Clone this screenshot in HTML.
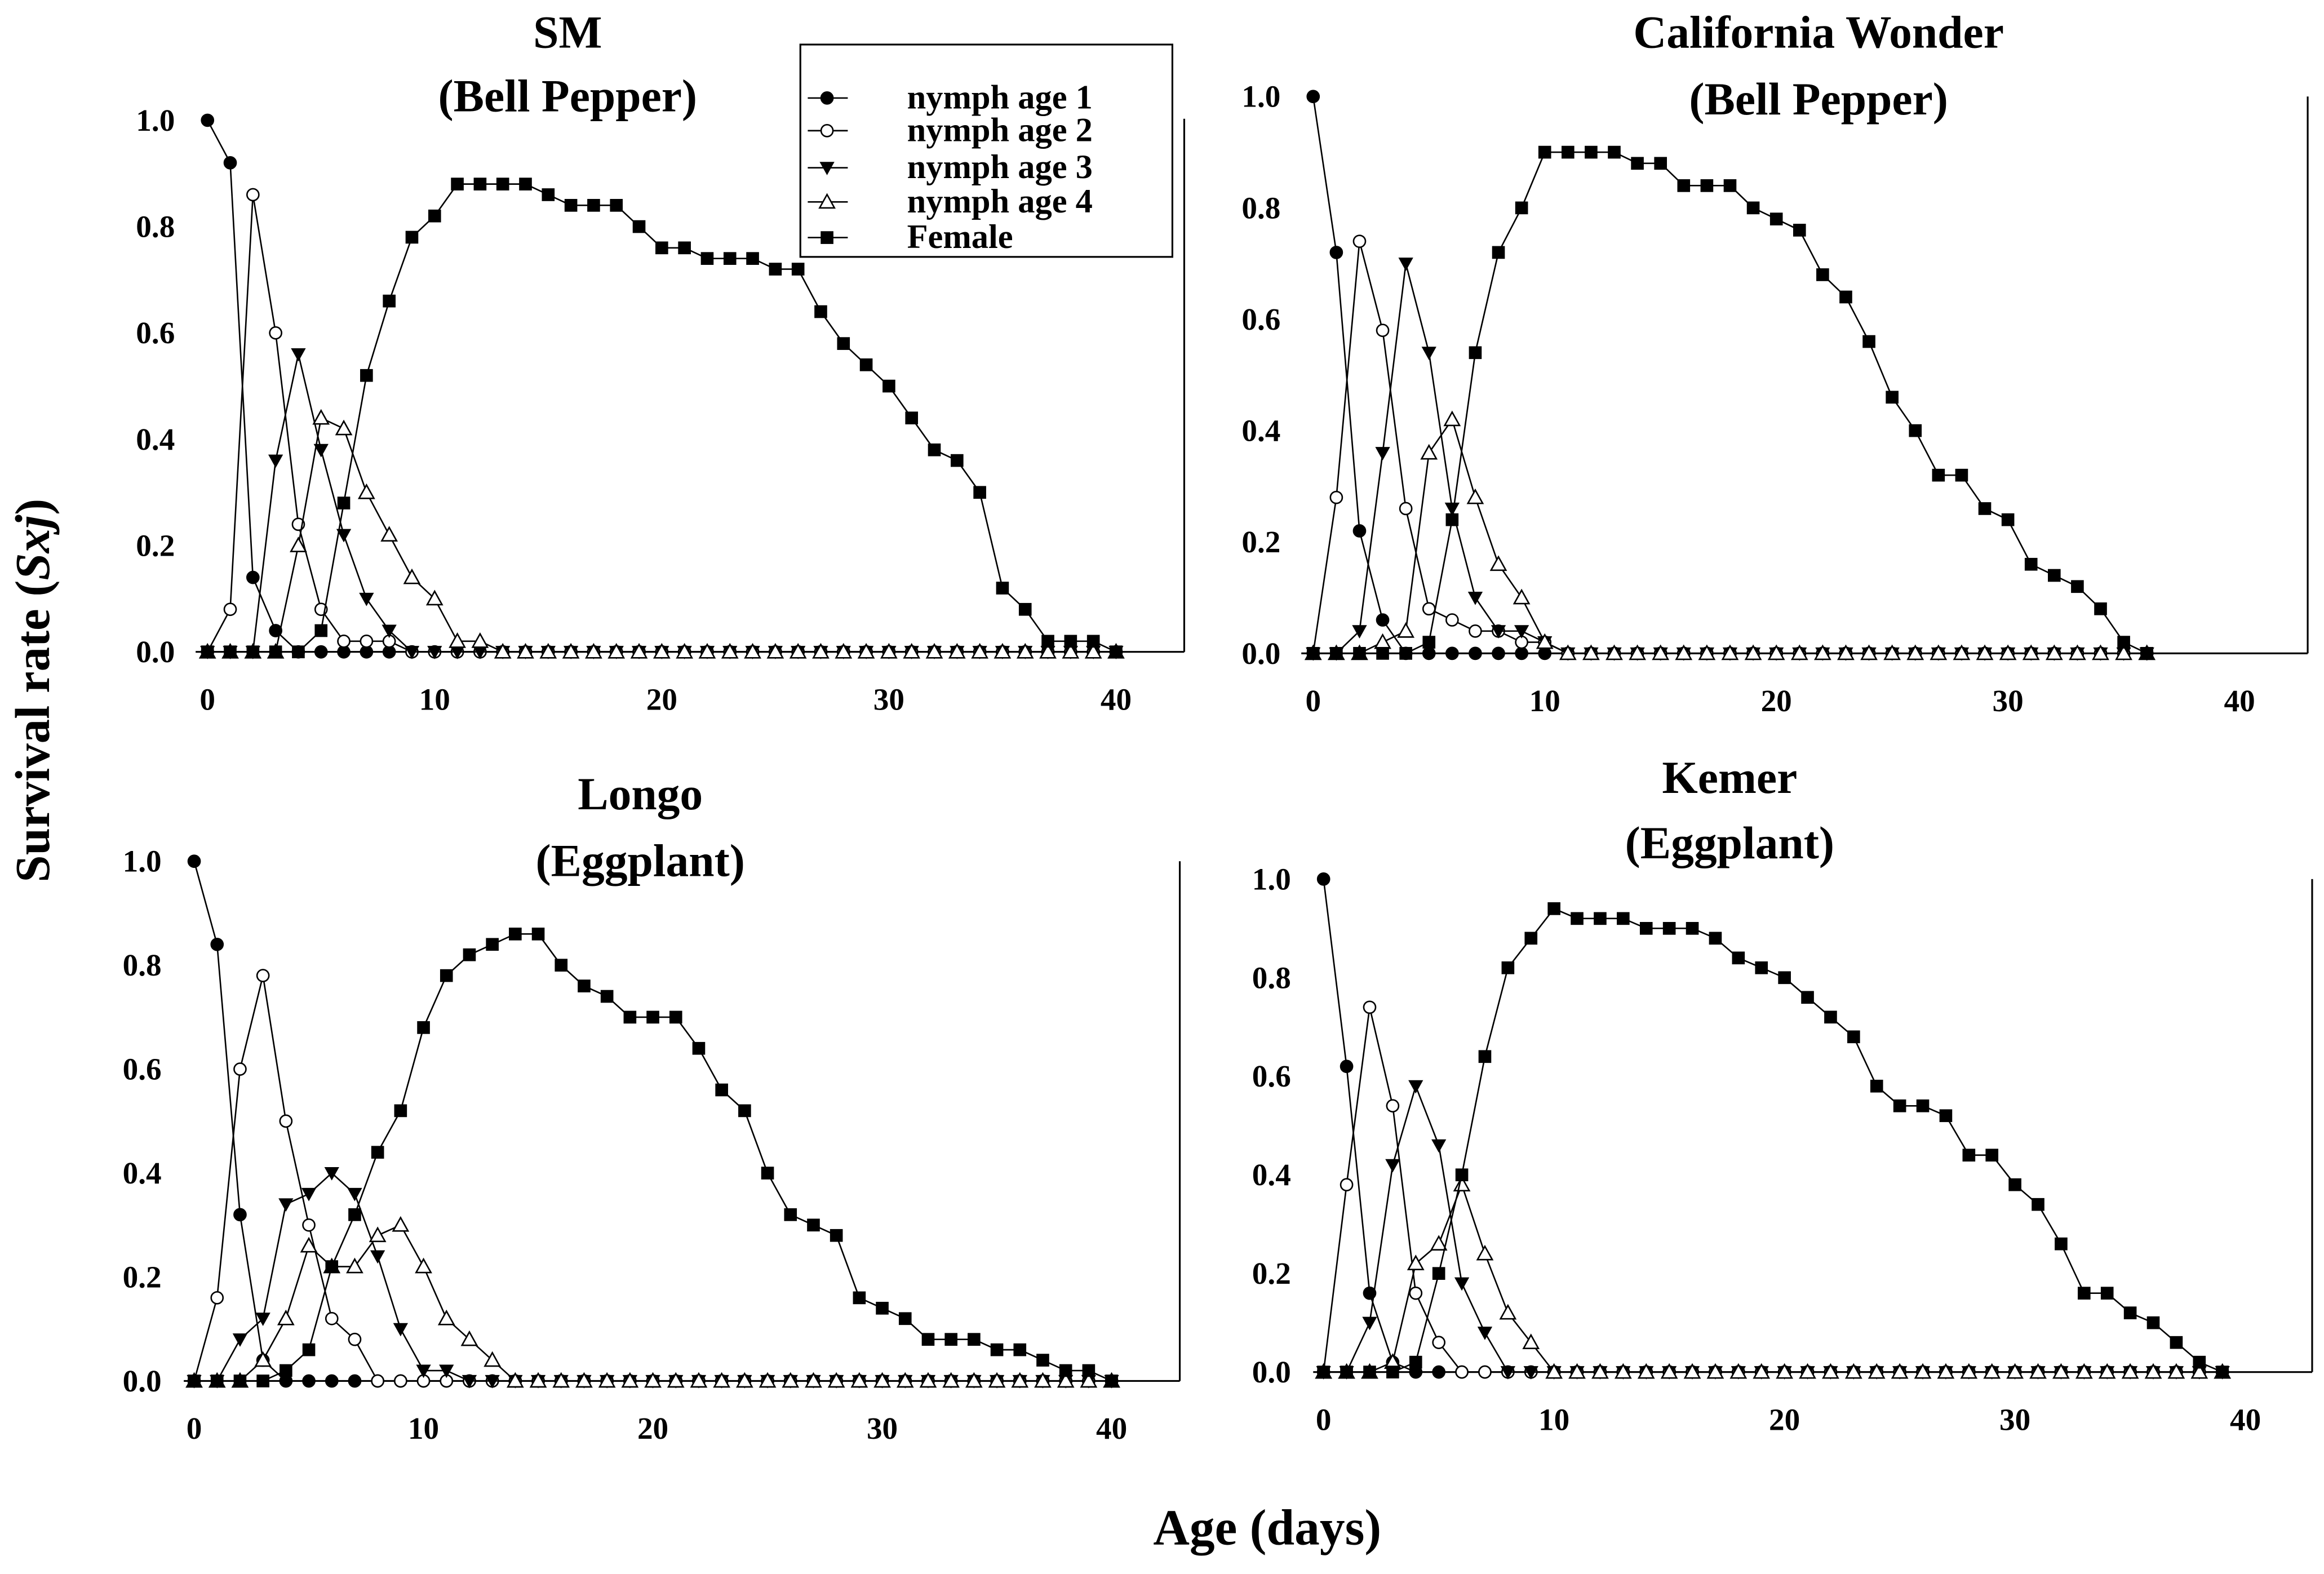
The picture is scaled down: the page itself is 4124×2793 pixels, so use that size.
<!DOCTYPE html>
<html><head><meta charset="utf-8"><style>
html,body{margin:0;padding:0;background:#fff}
svg{display:block}
text{font-family:"Liberation Serif",serif;font-weight:bold;fill:#000}
</style></head><body>
<svg id="fig" xmlns="http://www.w3.org/2000/svg" width="4124" height="2793" viewBox="0 0 1568 1060" preserveAspectRatio="none">
<text x="0" y="0" font-size="33" text-anchor="middle" transform="translate(33,465) rotate(-90)">Survival rate (<tspan font-style="italic">Sxj</tspan>)</text>
<text x="855" y="1040" font-size="34" text-anchor="middle">Age (days)</text>
</svg>
<script>
const xTicks=[0,10,20,30,40];
const yTicks=[0,0.2,0.4,0.6,0.8,1.0];
const seriesNames=["nymph age 1","nymph age 2","nymph age 3","nymph age 4","Female"];
const smN1=[1,0.92,0.14,0.04,0,0,0,0,0,0,0,0,0,0,0,0,0,0,0,0,0,0,0,0,0,0,0,0,0,0,0,0,0,0,0,0,0,0,0,0,0];
const smN2=[0,0.08,0.86,0.60,0.24,0.08,0.02,0.02,0.02,0,0,0,0,0,0,0,0,0,0,0,0,0,0,0,0,0,0,0,0,0,0,0,0,0,0,0,0,0,0,0,0];
const smN3=[0,0,0,0.36,0.56,0.38,0.22,0.10,0.04,0,0,0,0,0,0,0,0,0,0,0,0,0,0,0,0,0,0,0,0,0,0,0,0,0,0,0,0,0,0,0,0];
const smN4=[0,0,0,0,0.20,0.44,0.42,0.30,0.22,0.14,0.10,0.02,0.02,0,0,0,0,0,0,0,0,0,0,0,0,0,0,0,0,0,0,0,0,0,0,0,0,0,0,0,0];
const smF=[0,0,0,0,0,0.04,0.28,0.52,0.66,0.78,0.82,0.88,0.88,0.88,0.88,0.86,0.84,0.84,0.84,0.80,0.76,0.76,0.74,0.74,0.74,0.72,0.72,0.64,0.58,0.54,0.50,0.44,0.38,0.36,0.30,0.12,0.08,0.02,0.02,0.02,0];
const cwN1=[1,0.72,0.22,0.06,0,0,0,0,0,0,0,0,0,0,0,0,0,0,0,0,0,0,0,0,0,0,0,0,0,0,0,0,0,0,0,0,0];
const cwN2=[0,0.28,0.74,0.58,0.26,0.08,0.06,0.04,0.04,0.02,0.02,0,0,0,0,0,0,0,0,0,0,0,0,0,0,0,0,0,0,0,0,0,0,0,0,0,0];
const cwN3=[0,0,0.04,0.36,0.70,0.54,0.26,0.10,0.04,0.04,0.02,0,0,0,0,0,0,0,0,0,0,0,0,0,0,0,0,0,0,0,0,0,0,0,0,0,0];
const cwN4=[0,0,0,0.02,0.04,0.36,0.42,0.28,0.16,0.10,0.02,0,0,0,0,0,0,0,0,0,0,0,0,0,0,0,0,0,0,0,0,0,0,0,0,0,0];
const cwF=[0,0,0,0,0,0.02,0.24,0.54,0.72,0.80,0.90,0.90,0.90,0.90,0.88,0.88,0.84,0.84,0.84,0.80,0.78,0.76,0.68,0.64,0.56,0.46,0.40,0.32,0.32,0.26,0.24,0.16,0.14,0.12,0.08,0.02,0];
const loN1=[1,0.84,0.32,0.04,0,0,0,0,0,0,0,0,0,0,0,0,0,0,0,0,0,0,0,0,0,0,0,0,0,0,0,0,0,0,0,0,0,0,0,0,0];
const loN2=[0,0.16,0.60,0.78,0.50,0.30,0.12,0.08,0,0,0,0,0,0,0,0,0,0,0,0,0,0,0,0,0,0,0,0,0,0,0,0,0,0,0,0,0,0,0,0,0];
const loN3=[0,0,0.08,0.12,0.34,0.36,0.40,0.36,0.24,0.10,0.02,0.02,0,0,0,0,0,0,0,0,0,0,0,0,0,0,0,0,0,0,0,0,0,0,0,0,0,0,0,0,0];
const loN4=[0,0,0,0.04,0.12,0.26,0.22,0.22,0.28,0.30,0.22,0.12,0.08,0.04,0,0,0,0,0,0,0,0,0,0,0,0,0,0,0,0,0,0,0,0,0,0,0,0,0,0,0];
const loF=[0,0,0,0,0.02,0.06,0.22,0.32,0.44,0.52,0.68,0.78,0.82,0.84,0.86,0.86,0.80,0.76,0.74,0.70,0.70,0.70,0.64,0.56,0.52,0.40,0.32,0.30,0.28,0.16,0.14,0.12,0.08,0.08,0.08,0.06,0.06,0.04,0.02,0.02,0];
const keN1=[1,0.62,0.16,0.02,0,0,0,0,0,0,0,0,0,0,0,0,0,0,0,0,0,0,0,0,0,0,0,0,0,0,0,0,0,0,0,0,0,0,0,0];
const keN2=[0,0.38,0.74,0.54,0.16,0.06,0,0,0,0,0,0,0,0,0,0,0,0,0,0,0,0,0,0,0,0,0,0,0,0,0,0,0,0,0,0,0,0,0,0];
const keN3=[0,0,0.10,0.42,0.58,0.46,0.18,0.08,0,0,0,0,0,0,0,0,0,0,0,0,0,0,0,0,0,0,0,0,0,0,0,0,0,0,0,0,0,0,0,0];
const keN4=[0,0,0,0.02,0.22,0.26,0.38,0.24,0.12,0.06,0,0,0,0,0,0,0,0,0,0,0,0,0,0,0,0,0,0,0,0,0,0,0,0,0,0,0,0,0,0];
const keF=[0,0,0,0,0.02,0.20,0.40,0.64,0.82,0.88,0.94,0.92,0.92,0.92,0.90,0.90,0.90,0.88,0.84,0.82,0.80,0.76,0.72,0.68,0.58,0.54,0.54,0.52,0.44,0.44,0.38,0.34,0.26,0.16,0.16,0.12,0.10,0.06,0.02,0];

const NS="http://www.w3.org/2000/svg";
const svg=document.getElementById('fig');
function mk(tag,attrs,parent){const e=document.createElementNS(NS,tag);for(const k in attrs)e.setAttribute(k,attrs[k]);(parent||svg).appendChild(e);return e;}
const kinds=["circle","ocircle","tri","otri","square"];
function marker(kind,cx,cy,g){
  let e;
  if(kind==="circle"||kind==="ocircle"){e=mk('circle',{cx:cx,cy:cy,r:4,fill:kind==="circle"?"#000":"#fff",stroke:"#000","stroke-width":1},g);}
  else if(kind==="square"){e=mk('rect',{x:cx-4.3,y:cy-4.3,width:8.6,height:8.6,fill:"#000"},g);}
  else if(kind==="tri"){e=mk('polygon',{points:`${cx-5},${cy-4} ${cx+5},${cy-4} ${cx},${cy+5}`,fill:"#000"},g);}
  else {e=mk('polygon',{points:`${cx-5},${cy+4} ${cx+5},${cy+4} ${cx},${cy-5}`,fill:"#fff",stroke:"#000","stroke-width":1},g);}
  return e;
}
const panels=[
 {id:"sm",t1:"SM",t2:"(Bell Pepper)",tx:383,ty1:32,ty2:75,x0:140,x40:753,y0:439,y1:81,right:799,top:80,left:132,data:[smN1,smN2,smN3,smN4,smF]},
 {id:"california-wonder",t1:"California Wonder",t2:"(Bell Pepper)",tx:1227,ty1:32,ty2:77,x0:886,x40:1511,y0:440,y1:65,right:1557,top:65,left:878,data:[cwN1,cwN2,cwN3,cwN4,cwF]},
 {id:"longo",t1:"Longo",t2:"(Eggplant)",tx:432,ty1:545,ty2:590,x0:131,x40:750,y0:930,y1:580,right:796,top:580,left:124,data:[loN1,loN2,loN3,loN4,loF]},
 {id:"kemer",t1:"Kemer",t2:"(Eggplant)",tx:1167,ty1:534,ty2:578,x0:893,x40:1515,y0:924,y1:592,right:1560,top:592,left:886,data:[keN1,keN2,keN3,keN4,keF]}
];
panels.forEach(p=>{
  const g=mk('g',{});
  
  
  const X=v=>p.x0+(p.x40-p.x0)*v/40;
  const Y=v=>p.y0-(p.y0-p.y1)*v;
  const t1=mk('text',{x:p.tx,y:p.ty1,"font-size":31,"text-anchor":"middle"},g);t1.textContent=p.t1;
  
  
  const t2=mk('text',{x:p.tx,y:p.ty2,"font-size":31,"text-anchor":"middle"},g);t2.textContent=p.t2;
  
  
  const ax=mk('line',{x1:p.left,y1:p.y0,x2:p.right,y2:p.y0,stroke:"#000","stroke-width":1.2},g);
  
  
  const rl=mk('line',{x1:p.right,y1:p.top,x2:p.right,y2:p.y0,stroke:"#000","stroke-width":1.2},g);
  
  
  xTicks.forEach(v=>{
    const t=mk('text',{x:X(v),y:p.y0+39,"font-size":21,"text-anchor":"middle"},g);t.textContent=v;
    
    
  });
  yTicks.forEach(v=>{
    const t=mk('text',{x:p.x0-22,y:Y(v)+7,"font-size":21,"text-anchor":"end"},g);t.textContent=v.toFixed(1);
    
    
  });
  p.data.forEach((arr,si)=>{
    const sg=mk('g',{},g);
    
    
    const pts=arr.map((v,i)=>X(i)+','+Y(v)).join(' ');
    const pl=mk('polyline',{points:pts,fill:"none",stroke:"#000","stroke-width":1},sg);
    
    
    arr.forEach((v,i)=>{
      const m=marker(kinds[si],X(i),Y(v),sg);
      
      
    });
  });
});
const lg=mk('g',{});


const lb=mk('rect',{x:540,y:30,width:251,height:143,fill:"#fff",stroke:"#000","stroke-width":1.2},lg);


const ly=[66,88,113,136,160];
seriesNames.forEach((n,i)=>{
  const eg=mk('g',{},lg);
  
  
  mk('line',{x1:545,y1:ly[i],x2:572,y2:ly[i],stroke:"#000","stroke-width":1},eg);
  marker(kinds[i],558,ly[i],eg);
  const t=mk('text',{x:612,y:ly[i]+7,"font-size":23},eg);t.textContent=n;
});
</script>
</body></html>
